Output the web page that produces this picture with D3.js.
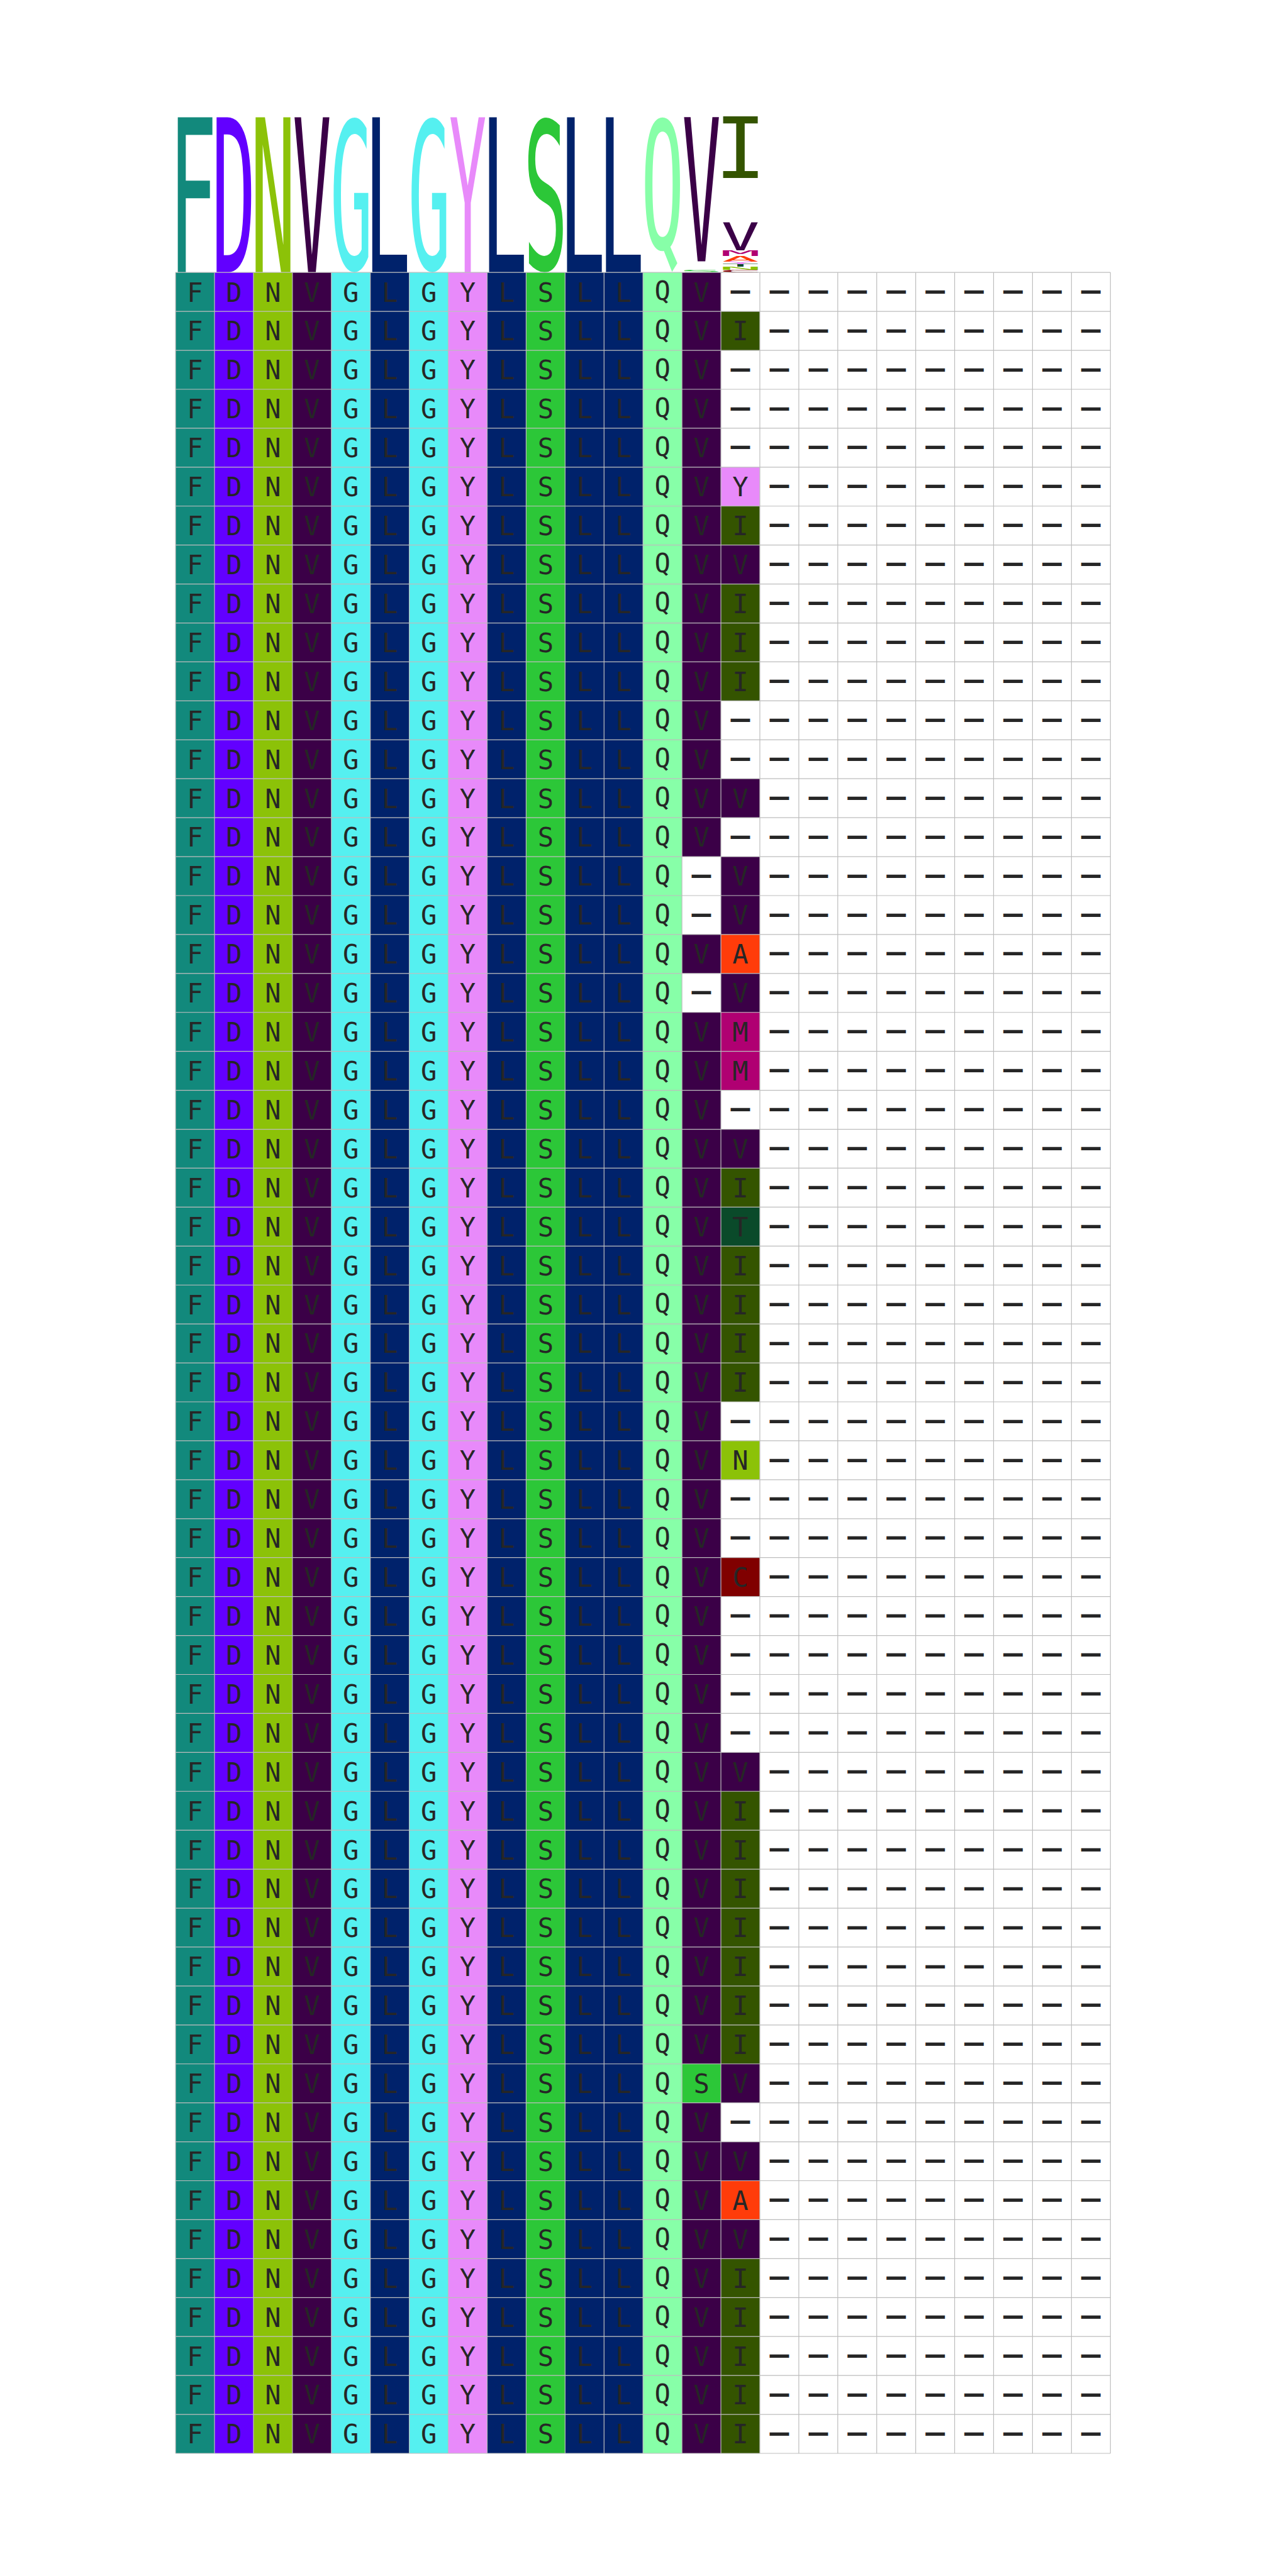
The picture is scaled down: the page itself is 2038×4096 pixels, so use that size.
<!DOCTYPE html>
<html><head><meta charset="utf-8">
<script src="https://cdn.jsdelivr.net/npm/d3@7"></script>
<style>html,body{margin:0;padding:0;background:#fff;overflow:hidden}svg{display:block}</style>
</head><body>
<script>
// ---- data: the alignment, one string per sequence (24 positions) ----
const alignment = [
  "FDNVGLGYLSLLQV----------",
  "FDNVGLGYLSLLQVI---------",
  "FDNVGLGYLSLLQV----------",
  "FDNVGLGYLSLLQV----------",
  "FDNVGLGYLSLLQV----------",
  "FDNVGLGYLSLLQVY---------",
  "FDNVGLGYLSLLQVI---------",
  "FDNVGLGYLSLLQVV---------",
  "FDNVGLGYLSLLQVI---------",
  "FDNVGLGYLSLLQVI---------",
  "FDNVGLGYLSLLQVI---------",
  "FDNVGLGYLSLLQV----------",
  "FDNVGLGYLSLLQV----------",
  "FDNVGLGYLSLLQVV---------",
  "FDNVGLGYLSLLQV----------",
  "FDNVGLGYLSLLQ-V---------",
  "FDNVGLGYLSLLQ-V---------",
  "FDNVGLGYLSLLQVA---------",
  "FDNVGLGYLSLLQ-V---------",
  "FDNVGLGYLSLLQVM---------",
  "FDNVGLGYLSLLQVM---------",
  "FDNVGLGYLSLLQV----------",
  "FDNVGLGYLSLLQVV---------",
  "FDNVGLGYLSLLQVI---------",
  "FDNVGLGYLSLLQVT---------",
  "FDNVGLGYLSLLQVI---------",
  "FDNVGLGYLSLLQVI---------",
  "FDNVGLGYLSLLQVI---------",
  "FDNVGLGYLSLLQVI---------",
  "FDNVGLGYLSLLQV----------",
  "FDNVGLGYLSLLQVN---------",
  "FDNVGLGYLSLLQV----------",
  "FDNVGLGYLSLLQV----------",
  "FDNVGLGYLSLLQVC---------",
  "FDNVGLGYLSLLQV----------",
  "FDNVGLGYLSLLQV----------",
  "FDNVGLGYLSLLQV----------",
  "FDNVGLGYLSLLQV----------",
  "FDNVGLGYLSLLQVV---------",
  "FDNVGLGYLSLLQVI---------",
  "FDNVGLGYLSLLQVI---------",
  "FDNVGLGYLSLLQVI---------",
  "FDNVGLGYLSLLQVI---------",
  "FDNVGLGYLSLLQVI---------",
  "FDNVGLGYLSLLQVI---------",
  "FDNVGLGYLSLLQVI---------",
  "FDNVGLGYLSLLQSV---------",
  "FDNVGLGYLSLLQV----------",
  "FDNVGLGYLSLLQVV---------",
  "FDNVGLGYLSLLQVA---------",
  "FDNVGLGYLSLLQVV---------",
  "FDNVGLGYLSLLQVI---------",
  "FDNVGLGYLSLLQVI---------",
  "FDNVGLGYLSLLQVI---------",
  "FDNVGLGYLSLLQVI---------",
  "FDNVGLGYLSLLQVI---------"
];
const gapChar = "-";
const residues = ["F","D","N","V","G","L","Y","S","Q","I","M","A","T","C"];
const residueColors = ["#12897c","#6200ff","#8cc208","#3b0047","#55f0f0","#00226b",
                       "#e88afa","#2cc738","#87ffa8","#345400","#b00072","#ff3c0a","#0a4a2a","#800000"];

// ---- layout (reference px * scale) ----
const K = 0.679;
const W = 2038, H = 4096;
const nCols = alignment[0].length, nRows = alignment.length;
const cell = 91.2 * K;
const gridLeft = 411 * K, gridTop = 638 * K;
const logoTop = 274 * K;
const FONT = "'DejaVu Sans Mono', 'Liberation Mono', monospace";
const textColor = "#262626";
const lineColor = "#bdbdbd";

const color = d3.scaleOrdinal().domain(residues).range(residueColors).unknown("#ffffff");

const x = d3.scaleBand().domain(d3.range(nCols)).range([gridLeft, gridLeft + nCols * cell]).padding(0);
const y = d3.scaleBand().domain(d3.range(nRows)).range([gridTop, gridTop + nRows * cell]).padding(0);
const yLogo = d3.scaleLinear().domain([0, 1]).range([gridTop, logoTop]);

// ink metrics via canvas
const cvs = document.createElement("canvas");
const ctx = cvs.getContext("2d");
const REF = 200;
const inkCache = {};
function ink(ch, weight) {
  const key = ch + (weight || "normal");
  if (!inkCache[key]) {
    ctx.font = `${weight || "normal"} ${REF}px ${FONT}`;
    const m = ctx.measureText(ch);
    inkCache[key] = {l: m.actualBoundingBoxLeft, r: m.actualBoundingBoxRight,
                     a: m.actualBoundingBoxAscent, d: m.actualBoundingBoxDescent};
  }
  return inkCache[key];
}

const svg = d3.select("body").append("svg").attr("width", W).attr("height", H)
  .attr("viewBox", `0 0 ${W} ${H}`);
svg.append("rect").attr("width", W).attr("height", H).attr("fill", "#fff");

// ---- sequence logo (letter heights = frequency at each position) ----
const logoData = [];
for (let c = 0; c < nCols; c++) {
  const counts = d3.rollups(alignment.map(s => s[c]), v => v.length, d => d);
  counts.sort((a, b) => d3.ascending(a[1], b[1]) || d3.ascending(a[0], b[0]));
  let acc = 0;
  counts.forEach(([ch, n]) => {
    const f0 = acc / nRows, f1 = (acc + n) / nRows;
    acc += n;
    if (ch !== gapChar) logoData.push({c, ch, f0, f1});
  });
}
const logoW = 0.9;
const gLogo = svg.append("g");
gLogo.selectAll("text").data(logoData).join("text")
  .attr("font-family", FONT).attr("font-size", REF)
  .attr("fill", d => color(d.ch))
  .attr("transform", d => {
    const m = ink(d.ch);
    const bw = x.bandwidth() * logoW;
    const x0 = x(d.c) + (x.bandwidth() - bw) / 2;
    const yTop = yLogo(d.f1), yBot = yLogo(d.f0);
    const sx = bw / (m.l + m.r), sy = (yBot - yTop) / (m.a + m.d);
    return `translate(${x0 + m.l * sx},${yTop + m.a * sy}) scale(${sx},${sy})`;
  })
  .text(d => d.ch);

// ---- alignment grid ----
const cells = [];
alignment.forEach((s, r) => { for (let c = 0; c < nCols; c++) cells.push({r, c, ch: s[c]}); });

const gGrid = svg.append("g");
gGrid.selectAll("rect.cell").data(cells).join("rect").attr("class", "cell")
  .attr("x", d => x(d.c)).attr("y", d => y(d.r))
  .attr("width", x.bandwidth()).attr("height", y.bandwidth())
  .attr("fill", d => d.ch === gapChar ? "#ffffff" : color(d.ch));

// grid lines
const gLines = svg.append("g").attr("stroke", lineColor).attr("stroke-width", 1.2);
gLines.selectAll("line.h").data(d3.range(nRows + 1)).join("line").attr("class", "h")
  .attr("x1", gridLeft).attr("x2", gridLeft + nCols * cell)
  .attr("y1", r => gridTop + r * cell).attr("y2", r => gridTop + r * cell);
gLines.selectAll("line.v").data(d3.range(nCols + 1)).join("line").attr("class", "v")
  .attr("y1", gridTop).attr("y2", gridTop + nRows * cell)
  .attr("x1", c => gridLeft + c * cell).attr("x2", c => gridLeft + c * cell);

// cell letters
const letterFs = 62 * K;
const dashW = 45.7 * K, dashH = 7.7 * K;
const dm = ink("—", "bold");
const dashFs = Math.min(50, dashH / ((dm.a + dm.d) / REF));
const dashSx = dashW / ((dm.l + dm.r) / REF * dashFs);
const dashMid = (dm.a - dm.d) / 2 / REF * dashFs;
const gText = svg.append("g");
gText.selectAll("text").data(cells).join("text")
  .attr("font-family", FONT)
  .attr("fill", textColor)
  .attr("text-anchor", "middle")
  .each(function(d) {
    const cx = x(d.c) + x.bandwidth() / 2, cy = y(d.r) + y.bandwidth() / 2;
    const el = d3.select(this);
    if (d.ch === gapChar) {
      el.attr("font-size", dashFs).attr("font-weight", "bold")
        .attr("transform", `translate(${cx},${cy + dashMid}) scale(${dashSx},1)`)
        .text("—");
    } else {
      const m = ink(d.ch);
      const inkMid = (m.a - m.d) / 2 / REF * letterFs;
      el.attr("font-size", letterFs).attr("x", cx).attr("y", cy + inkMid).text(d.ch);
    }
  });
</script>
</body></html>
